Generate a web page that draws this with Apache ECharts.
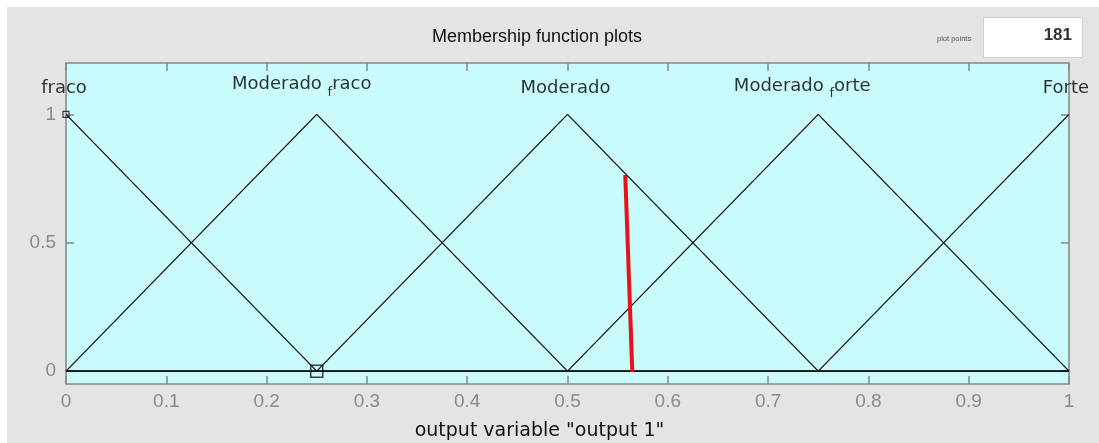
<!DOCTYPE html>
<html><head><meta charset="utf-8">
<script src="https://cdn.jsdelivr.net/npm/echarts@6/dist/echarts.min.js"></script>
<style>
html,body{margin:0;padding:0;background:#fff;}
#bg{position:absolute;left:7px;top:7px;width:1092px;height:436px;background:#e4e4e4;}
#c{position:absolute;left:0;top:0;width:1099px;height:443px;}
</style></head>
<body><div id="bg"></div><div id="c"></div>
<script>
// Membership functions (x, mu) breakpoints over the output range [0,1]
const mfNames = ['fraco', 'Moderado_fraco', 'Moderado', 'Moderado_forte', 'Forte'];
const mfFraco = [[0, 1], [0.25, 0], [1, 0]];
const mfModeradoFraco = [[0, 0], [0.25, 1], [0.5, 0], [1, 0]];
const mfModerado = [[0, 0], [0.25, 0], [0.5, 1], [0.75, 0], [1, 0]];
const mfModeradoForte = [[0, 0], [0.5, 0], [0.75, 1], [1, 0]];
const mfForte = [[0, 0], [0.75, 0], [1, 1]];
const mfPeaks = [0, 0.25, 0.5, 0.75, 1];
const labelHeights = [1.103, 1.115, 1.10, 1.11, 1.103];
// red output indicator line
const redLine = [[0.5576, 0.764], [0.5646, -0.003]];
// square markers
const markerSmall = [[0, 1]];
const markerLarge = [[0.25, 0]];
const xTicks = [0, 0.1, 0.2, 0.3, 0.4, 0.5, 0.6, 0.7, 0.8, 0.9, 1];
const xTickLabels = ['0', '0.1', '0.2', '0.3', '0.4', '0.5', '0.6', '0.7', '0.8', '0.9', '1'];
const yTicks = [0, 0.5, 1];
const yTickLabels = ['0', '0.5', '1'];
const plotPoints = '181';

const chart = echarts.init(document.getElementById('c'), null, {renderer: 'canvas'});
const axisGray = '#858585';
const mfSeries = [mfFraco, mfModeradoFraco, mfModerado, mfModeradoForte, mfForte].map((d, i) => ({
  type: 'line', name: mfNames[i], data: d, symbol: 'none', silent: true,
  lineStyle: {color: '#111', width: 1.3}, z: 3
}));

function labelText(name) {
  const k = name.indexOf('_');
  if (k < 0) return '{n|' + name + '}';
  return '{n|' + name.slice(0, k) + ' }{s|' + name.charAt(k + 1) + '}{n|' + name.slice(k + 2) + '}';
}
const labelOffsets = [[-2, 0], [-15, 0], [-2, 0], [-16, 0], [-3, 0]];
const fmtX = v => xTickLabels[xTicks.findIndex(t => Math.abs(t - v) < 1e-9)];
const fmtY = v => yTickLabels[yTicks.findIndex(t => Math.abs(t - v) < 1e-9)];
const tickStyle = {show: true, inside: true, length: 8, lineStyle: {color: axisGray, width: 1.5}};
const lineOff = {show: false, onZero: false};

chart.setOption({
  animation: false,
  grid: {left: 66, right: 30, top: 63, bottom: 59, outerBoundsMode: 'none', containLabel: false,
    show: true, backgroundColor: '#c9fbfc', borderColor: axisGray, borderWidth: 1.5},
  xAxis: [{
    type: 'value', min: 0, max: 1, interval: 0.1, position: 'bottom',
    name: 'output variable "output 1"', nameLocation: 'middle', nameGap: 38,
    nameTextStyle: {color: '#111', fontSize: 19, fontFamily: 'DejaVu Sans', padding: [0, 56, 0, 0]},
    axisLine: lineOff,
    axisTick: Object.assign({customValues: xTicks}, tickStyle),
    axisLabel: {color: '#8a8a8a', fontSize: 19, fontFamily: 'Liberation Sans', margin: 8, customValues: xTicks, formatter: fmtX},
    splitLine: {show: false}
  }, {
    type: 'value', min: 0, max: 1, interval: 0.1, position: 'top',
    axisLine: lineOff,
    axisTick: Object.assign({customValues: xTicks}, tickStyle),
    axisLabel: {show: false},
    splitLine: {show: false}
  }],
  yAxis: [{
    type: 'value', min: -0.05, max: 1.2, position: 'left',
    axisLine: lineOff,
    axisTick: Object.assign({customValues: yTicks}, tickStyle),
    axisLabel: {color: '#8a8a8a', fontSize: 19, fontFamily: 'Liberation Sans', margin: 10, customValues: yTicks, formatter: fmtY},
    splitLine: {show: false}
  }, {
    type: 'value', min: -0.05, max: 1.2, position: 'right',
    axisLine: lineOff,
    axisTick: Object.assign({customValues: yTicks}, tickStyle),
    axisLabel: {show: false},
    splitLine: {show: false}
  }],
  series: mfSeries.concat([
    {type: 'line', data: [], xAxisIndex: 1, yAxisIndex: 1, symbol: 'none', silent: true},
    {type: 'line', data: redLine, symbol: 'none', silent: true, lineStyle: {color: '#e8101a', width: 4}, z: 5},
    {type: 'scatter', data: markerSmall, symbol: 'rect', symbolSize: 6, silent: true,
      itemStyle: {color: 'rgba(0,0,0,0)', borderColor: '#111', borderWidth: 1.2}, z: 6},
    {type: 'scatter', data: markerLarge, symbol: 'rect', symbolSize: 12, silent: true,
      itemStyle: {color: 'rgba(0,0,0,0)', borderColor: '#111', borderWidth: 1.5}, z: 6},
    {type: 'scatter', symbolSize: 0, silent: true, z: 7,
      data: mfNames.map((n, i) => ({value: [mfPeaks[i], labelHeights[i]],
        label: {show: true, position: 'inside', offset: labelOffsets[i], formatter: labelText(n),
          rich: {
            n: {fontSize: 18, fontFamily: 'DejaVu Sans', color: '#000'},
            s: {fontSize: 13, fontFamily: 'DejaVu Sans', color: '#000', padding: [15, 0, 0, 0]}
          }}}))
    }
  ]),
  graphic: [
    {type: 'text', left: 432, top: 28, style: {text: 'Membership function plots', fontSize: 18, fontFamily: 'Liberation Sans', fill: '#111'}},
    {type: 'text', left: 937, top: 35, style: {text: 'plot points', fontSize: 7.5, fontFamily: 'Liberation Sans', fill: '#555'}},
    {type: 'rect', left: 983, top: 17, shape: {width: 99, height: 40}, style: {fill: '#fff', stroke: '#d0d0d0', lineWidth: 1}},
    {type: 'text', right: 27, top: 27, style: {text: plotPoints, fontSize: 17, fontFamily: 'Liberation Sans', fontWeight: 'bold', fill: '#333', align: 'right'}}
  ]
});
</script></body></html>
